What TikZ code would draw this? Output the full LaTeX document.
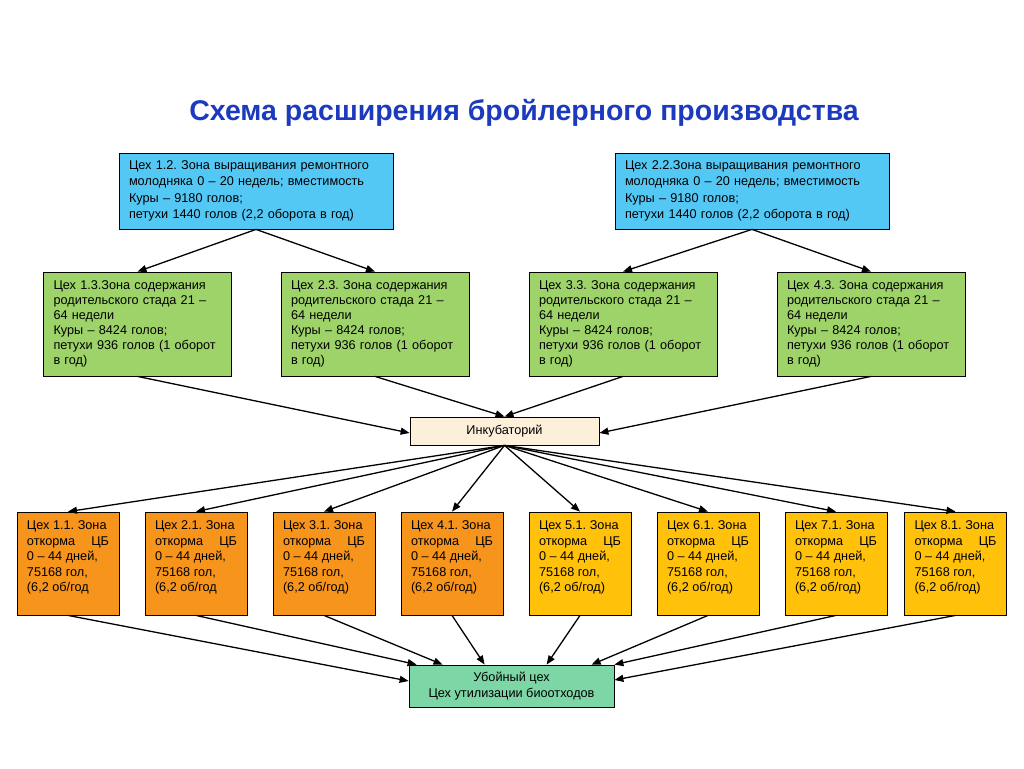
\documentclass[tikz,border=0pt]{standalone}
\usepackage{fontspec}
\setmainfont{Liberation Sans}
\usetikzlibrary{arrows.meta,calc}
\definecolor{cblue}{RGB}{84,200,245}
\definecolor{cgreen}{RGB}{158,211,106}
\definecolor{cinc}{RGB}{253,240,219}
\definecolor{corange}{RGB}{247,148,28}
\definecolor{cgold}{RGB}{255,193,10}
\definecolor{cbot}{RGB}{125,214,165}
\definecolor{ctitle}{RGB}{28,58,190}
\frenchspacing
\begin{document}
\begin{tikzpicture}[x=1pt,y=-1pt,
  basebox/.style={draw=black, line width=0.8pt, inner ysep=0pt, inner xsep=10pt, align=left},
  bluebox/.style={basebox, fill=cblue, text width=254pt, minimum height=76pt, font=\fontsize{12.7}{16.4}\selectfont},
  greenbox/.style={basebox, fill=cgreen, text width=168pt, minimum height=104pt, font=\fontsize{12.7}{15}\selectfont},
  fatbox/.style={draw=black, line width=0.8pt, inner sep=0pt, font=\fontsize{12.7}{15.5}\selectfont},
  orbox/.style={fatbox, fill=corange, inner xsep=10pt},
  gdbox/.style={fatbox, fill=cgold, inner xsep=10pt},
  incbox/.style={draw=black, line width=0.8pt, fill=cinc, minimum width=189pt, minimum height=28pt, inner sep=0pt, font=\fontsize{12.7}{14}\selectfont},
  botbox/.style={draw=black, line width=0.8pt, fill=cbot, minimum width=205pt, minimum height=42pt, inner sep=0pt, align=center, font=\fontsize{12.7}{16}\selectfont},
  arr/.style={-{Triangle[length=9pt,width=7pt]}, line width=1.3pt, black}]
\useasboundingbox (0,0) rectangle (1024,768);
\newcommand{\ftext}[1]{\parbox[c][103pt][t]{82pt}{\rule{0pt}{17.5pt}#1}}

\node[font=\fontsize{28.5}{32}\selectfont\bfseries, text=ctitle] (title) at (524,113) {Схема расширения бройлерного производства};

\node[bluebox] (b1) at (256,191) {Цех 1.2. Зона выращивания ремонтного\\молодняка 0 – 20 недель; вместимость\\Куры – 9180 голов;\\петухи 1440 голов (2,2 оборота в год)};
\node[bluebox] (b2) at (752,191) {Цех 2.2.Зона выращивания ремонтного\\молодняка 0 – 20 недель; вместимость\\Куры – 9180 голов;\\петухи 1440 голов (2,2 оборота в год)};

\node[greenbox] (g1) at (137.5,324) {Цех 1.3.Зона содержания\\родительского стада 21 –\\64 недели\\Куры – 8424 голов;\\петухи 936 голов (1 оборот\\в год)};
\node[greenbox] (g2) at (375,324) {Цех 2.3. Зона содержания\\родительского стада 21 –\\64 недели\\Куры – 8424 голов;\\петухи 936 голов (1 оборот\\в год)};
\node[greenbox] (g3) at (623,324) {Цех 3.3. Зона содержания\\родительского стада 21 –\\64 недели\\Куры – 8424 голов;\\петухи 936 голов (1 оборот\\в год)};
\node[greenbox] (g4) at (871,324) {Цех 4.3. Зона содержания\\родительского стада 21 –\\64 недели\\Куры – 8424 голов;\\петухи 936 голов (1 оборот\\в год)};

\node[incbox] (inc) at (504.5,431) {Инкубаторий};

\node[orbox] (o1) at (68,563.5) {\ftext{Цех 1.1. Зона\\откорма\hfill ЦБ\\0 – 44 дней,\\75168 гол,\\(6,2 об/год}};
\node[orbox] (o2) at (196,563.5) {\ftext{Цех 2.1. Зона\\откорма\hfill ЦБ\\0 – 44 дней,\\75168 гол,\\(6,2 об/год}};
\node[orbox] (o3) at (324,563.5) {\ftext{Цех 3.1. Зона\\откорма\hfill ЦБ\\0 – 44 дней,\\75168 гол,\\(6,2 об/год)}};
\node[orbox] (o4) at (452,563.5) {\ftext{Цех 4.1. Зона\\откорма\hfill ЦБ\\0 – 44 дней,\\75168 гол,\\(6,2 об/год)}};
\node[gdbox] (o5) at (580,563.5) {\ftext{Цех 5.1. Зона\\откорма\hfill ЦБ\\0 – 44 дней,\\75168 гол,\\(6,2 об/год)}};
\node[gdbox] (o6) at (708,563.5) {\ftext{Цех 6.1. Зона\\откорма\hfill ЦБ\\0 – 44 дней,\\75168 гол,\\(6,2 об/год)}};
\node[gdbox] (o7) at (836,563.5) {\ftext{Цех 7.1. Зона\\откорма\hfill ЦБ\\0 – 44 дней,\\75168 гол,\\(6,2 об/год)}};
\node[gdbox] (o8) at (955.5,563.5) {\ftext{Цех 8.1. Зона\\откорма\hfill ЦБ\\0 – 44 дней,\\75168 гол,\\(6,2 об/год)}};

\node[botbox] (bot) at (511.5,686) {Убойный цех\\Цех утилизации биоотходов};

% blue -> green
\draw[arr] (b1.south) -- (g1.north);
\draw[arr] (b1.south) -- (g2.north);
\draw[arr] (b2.south) -- (g3.north);
\draw[arr] (b2.south) -- (g4.north);
% green -> incubator
\draw[arr] (g1.south) -- ($(inc.west)+(0,2)$);
\draw[arr] (g2.south) -- (inc.north);
\draw[arr] (g3.south) -- (inc.north);
\draw[arr] (g4.south) -- ($(inc.east)+(0,2)$);
% incubator -> fattening
\foreach \o in {o1,o2,o3,o4,o5,o6,o7,o8}
  \draw[arr] (inc.south) -- (\o.north);
% fattening -> slaughter
\draw[arr] (o1.south) -- ($(bot.west)+(0,-5)$);
\draw[arr] (o2.south) -- ($(bot.north west)+(8,0)$);
\draw[arr] (o3.south) -- ($(bot.north west)+(34,0)$);
\draw[arr] (o4.south) -- ($(bot.north west)+(76,0)$);
\draw[arr] (o5.south) -- ($(bot.north west)+(138,0)$);
\draw[arr] (o6.south) -- ($(bot.north west)+(183,0)$);
\draw[arr] (o7.south) -- (bot.north east);
\draw[arr] (o8.south) -- ($(bot.east)+(0,-6)$);
\end{tikzpicture}
\end{document}
